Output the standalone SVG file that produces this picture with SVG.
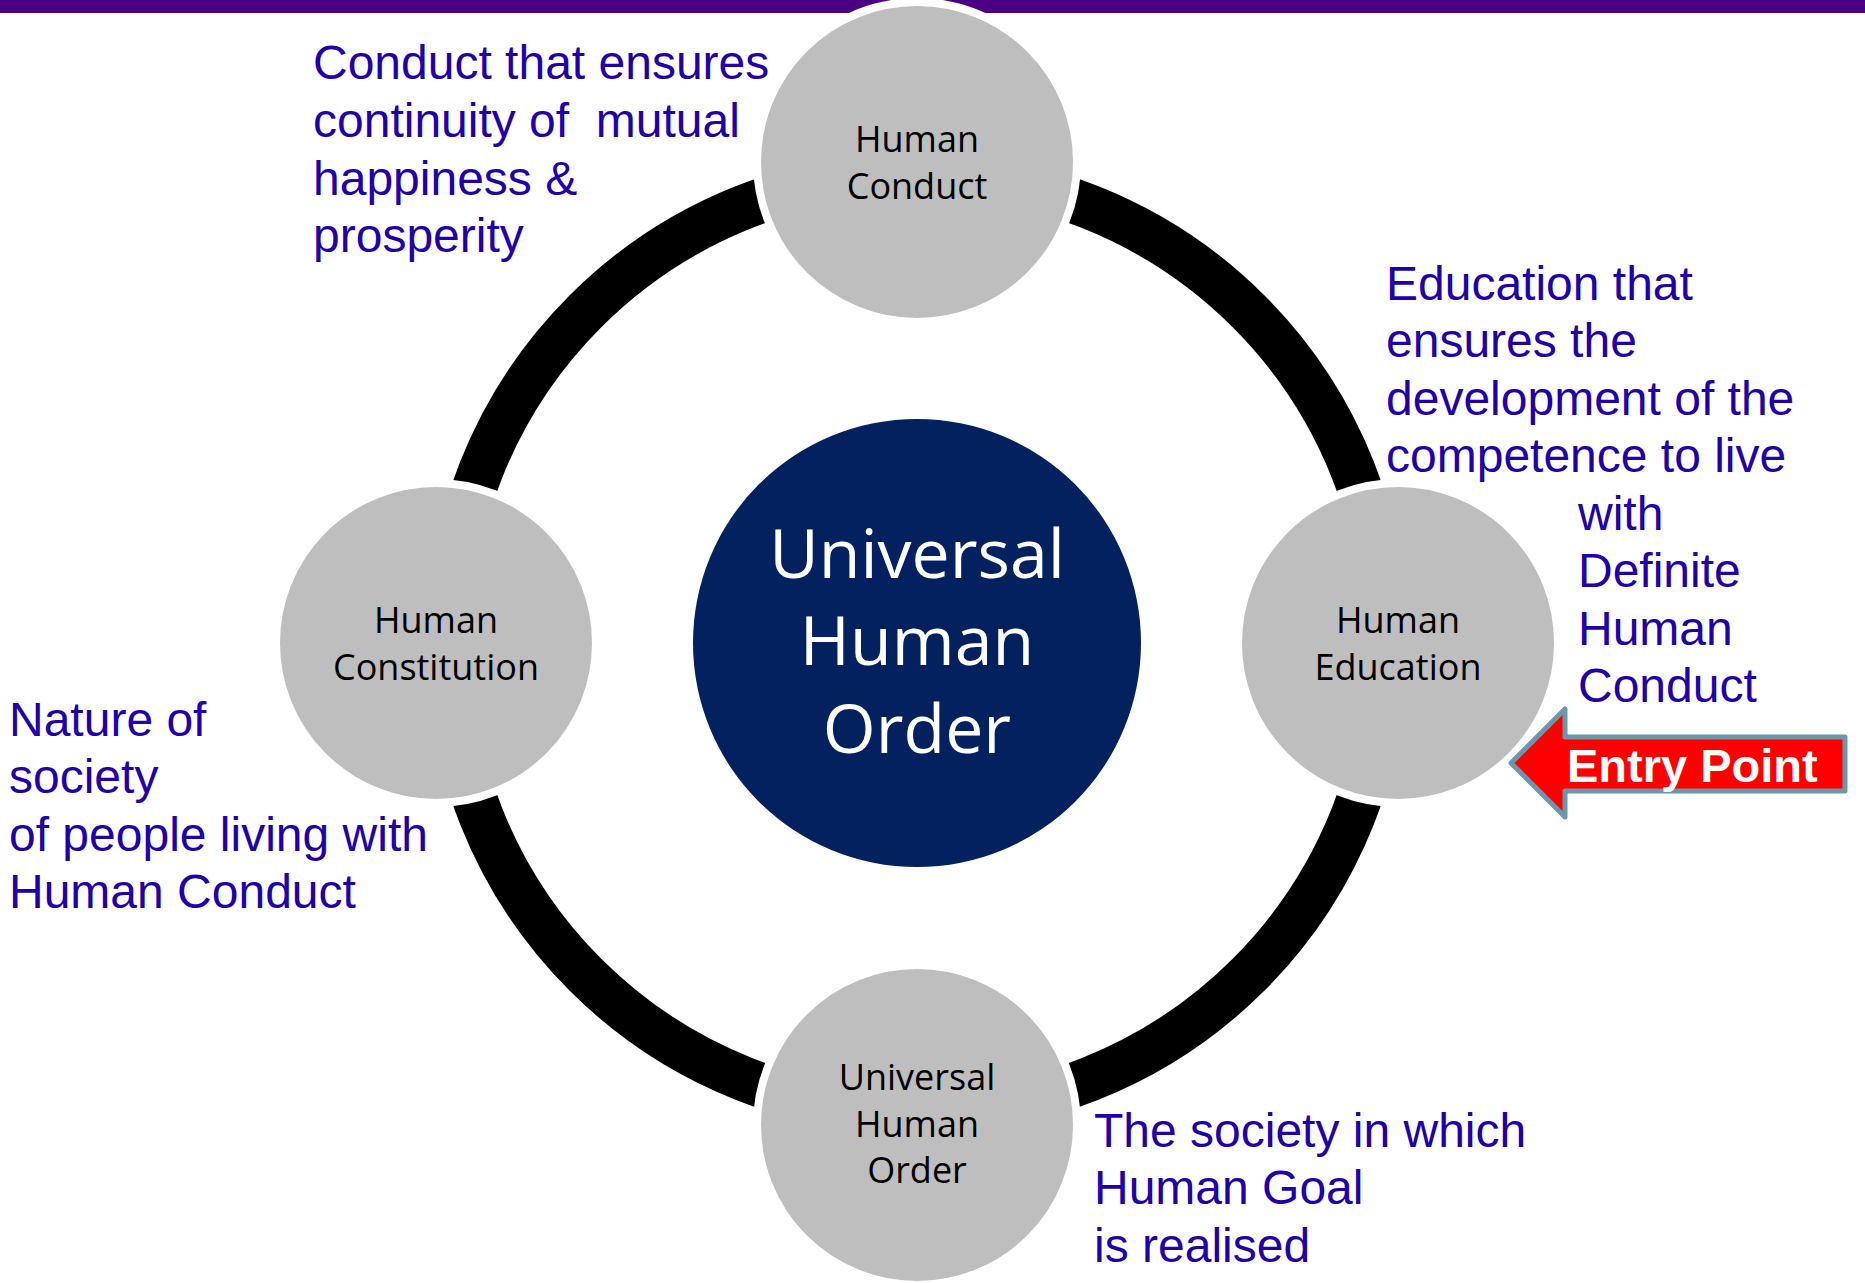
<svg xmlns="http://www.w3.org/2000/svg" width="1865" height="1283" viewBox="0 0 1865 1283">
<style>
.node{fill:#bebebe;stroke:#ffffff;stroke-width:8}
.lbl{font-family:"Open Sans","Noto Sans",sans-serif;font-size:36px;fill:#000000;text-anchor:middle}
.desc{font-family:"Liberation Sans",Arial,sans-serif;font-size:48px;fill:#2000a8;white-space:pre}
.ctr{font-family:"Open Sans","Noto Sans",sans-serif;font-size:68px;fill:#ffffff;text-anchor:middle}
</style>
<rect x="0" y="0" width="1865" height="1283" fill="#ffffff"/>
<rect x="0" y="0" width="1865" height="13" fill="#4b0082"/>
<g id="connectors">
<circle cx="917" cy="643" r="469" fill="none" stroke="#000000" stroke-width="45"/>
</g>
<g id="center">
<circle cx="917" cy="643" r="224" fill="#03215f"/>
<text class="ctr"><tspan x="917" y="578">Universal</tspan><tspan x="917" y="665">Human</tspan><tspan x="917" y="753">Order</tspan></text>
</g>
<g id="human-conduct">
<circle class="node" cx="917" cy="162" r="160"/>
<text class="lbl"><tspan x="917" y="152">Human</tspan><tspan x="917" y="199">Conduct</tspan></text>
</g>
<g id="human-constitution">
<circle class="node" cx="436" cy="643" r="160"/>
<text class="lbl"><tspan x="436" y="633">Human</tspan><tspan x="436" y="680">Constitution</tspan></text>
</g>
<g id="human-education">
<circle class="node" cx="1398" cy="643" r="160"/>
<text class="lbl"><tspan x="1398" y="633">Human</tspan><tspan x="1398" y="680">Education</tspan></text>
</g>
<g id="universal-human-order">
<circle class="node" cx="917" cy="1125" r="160"/>
<text class="lbl"><tspan x="917" y="1090">Universal</tspan><tspan x="917" y="1137">Human</tspan><tspan x="917" y="1183">Order</tspan></text>
</g>
<g id="desc-conduct">
<text class="desc"><tspan x="313" y="79">Conduct that ensures</tspan><tspan x="313" y="137">continuity of  mutual</tspan><tspan x="313" y="195">happiness &amp;</tspan><tspan x="313" y="252">prosperity</tspan></text>
</g>
<g id="desc-education">
<text class="desc"><tspan x="1386" y="300">Education that</tspan><tspan x="1386" y="357">ensures the</tspan><tspan x="1386" y="415">development of the</tspan><tspan x="1386" y="472">competence to live</tspan><tspan x="1578" y="530">with</tspan><tspan x="1578" y="587">Definite</tspan><tspan x="1578" y="645">Human</tspan><tspan x="1578" y="702">Conduct</tspan></text>
</g>
<g id="desc-constitution">
<text class="desc"><tspan x="9" y="736">Nature of</tspan><tspan x="9" y="793">society</tspan><tspan x="9" y="851">of people living with</tspan><tspan x="9" y="908">Human Conduct</tspan></text>
</g>
<g id="desc-order">
<text class="desc"><tspan x="1094" y="1147">The society in which</tspan><tspan x="1094" y="1204">Human Goal</tspan><tspan x="1094" y="1262">is realised</tspan></text>
</g>
<g id="entry-point">
<polygon points="1511,763 1565,709 1565,737 1845,737 1845,791 1565,791 1565,817" fill="#ff0000" stroke="#6b97ab" stroke-width="5" stroke-linejoin="round"/>
<text x="1567" y="782" font-family="'Liberation Sans',Arial,sans-serif" font-size="47" font-weight="bold" fill="#ffffff">Entry Point</text>
</g>
</svg>
